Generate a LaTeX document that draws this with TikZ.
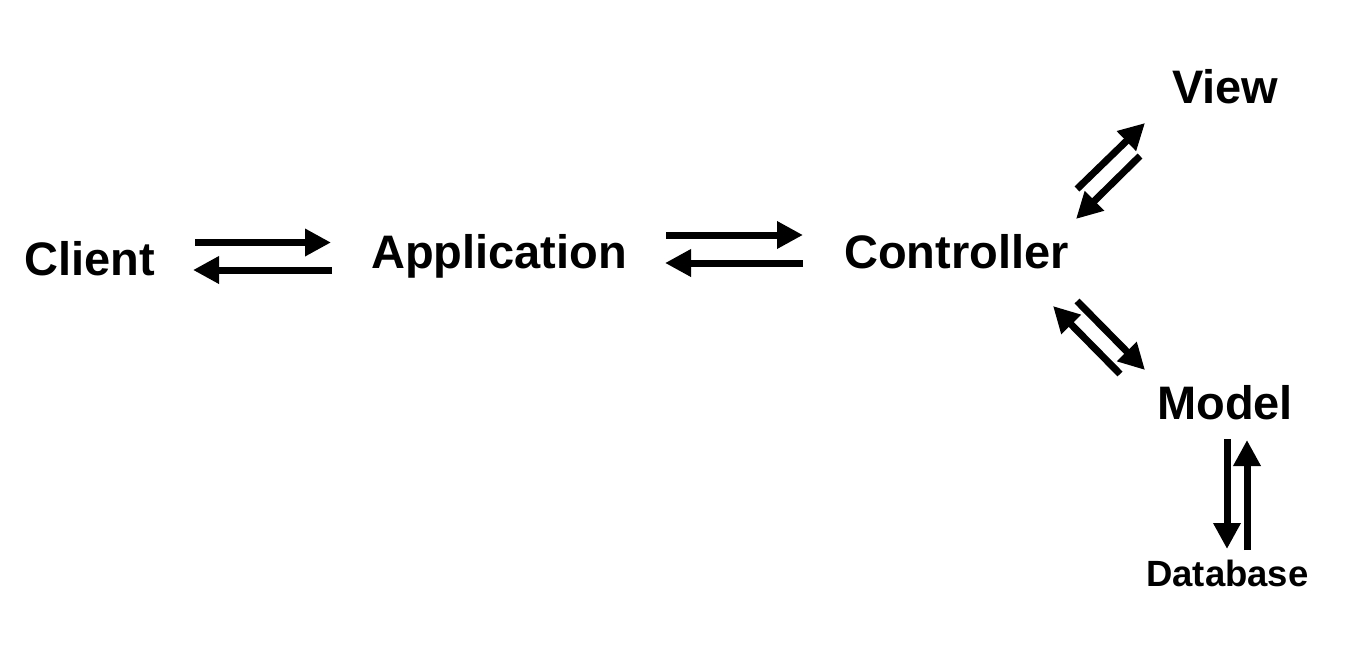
\documentclass[tikz,border=0pt]{standalone}
\usepackage{fontspec}
\setmainfont{Liberation Sans}
\usetikzlibrary{arrows.meta}
\tikzset{
  lbl/.style={anchor=base west, inner sep=0pt, font=\fontsize{47}{50}\selectfont\bfseries},
  smalllbl/.style={anchor=base west, inner sep=0pt, font=\fontsize{36.5}{40}\selectfont\bfseries},
  flow/.style={line width=7pt, -{Triangle[length=26pt,width=26pt]}}
}
\begin{document}
\begin{tikzpicture}[x=1pt,y=-1pt]
\useasboundingbox (0,0) rectangle (1366,656);
% labels
\node[lbl] (client) at (24,275) {Client};
\node[lbl] (app) at (371,268) {Application};
\node[lbl] (ctrl) at (844,268) {Controller};
\node[lbl] (view) at (1172,103) {View};
\node[lbl] (model) at (1157,419) {Model};
\node[smalllbl] (db) at (1146,586) {Database};
% connector end points
\coordinate (c1s) at (195,242.5);
\coordinate (c1e) at (331,242.5);
\coordinate (c2s) at (332,270);
\coordinate (c2e) at (193,270);
\coordinate (a1s) at (666,235);
\coordinate (a1e) at (803,235);
\coordinate (a2s) at (803,263);
\coordinate (a2e) at (665,263);
\coordinate (v1s) at (1077,189);
\coordinate (v1e) at (1145,123);
\coordinate (v2s) at (1140,156);
\coordinate (v2e) at (1076,219);
\coordinate (m1s) at (1120,374);
\coordinate (m1e) at (1053,306);
\coordinate (m2s) at (1077,301);
\coordinate (m2e) at (1145,370);
\coordinate (d1s) at (1227,439);
\coordinate (d1e) at (1227,549);
\coordinate (d2s) at (1247,550);
\coordinate (d2e) at (1247,440);
% connectors
\draw[flow] (c1s) -- (c1e);
\draw[flow] (c2s) -- (c2e);
\draw[flow] (a1s) -- (a1e);
\draw[flow] (a2s) -- (a2e);
\draw[flow] (v1s) -- (v1e);
\draw[flow] (v2s) -- (v2e);
\draw[flow] (m1s) -- (m1e);
\draw[flow] (m2s) -- (m2e);
\draw[flow] (d1s) -- (d1e);
\draw[flow] (d2s) -- (d2e);
\end{tikzpicture}
\end{document}
